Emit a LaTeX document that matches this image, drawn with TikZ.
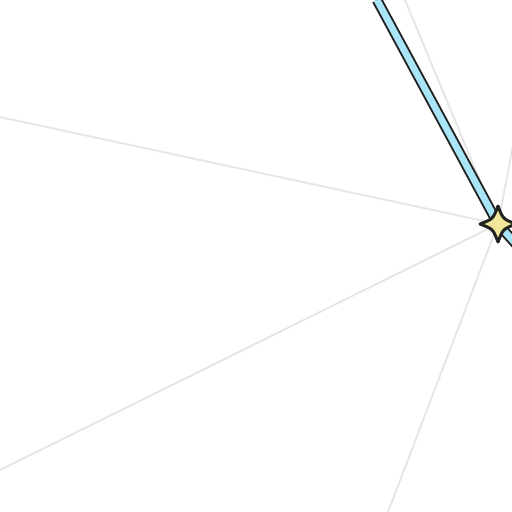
\documentclass[tikz,border=0pt]{standalone}
\usepackage{xcolor}
\definecolor{raycol}{HTML}{E6E6E6}
\definecolor{routecol}{HTML}{A8E6F7}
\definecolor{starcol}{HTML}{F2E69A}
\definecolor{inkcol}{HTML}{222222}

\begin{document}
\begin{tikzpicture}[x=0.02cm,y=-0.02cm,
    ray/.style={raycol, line width=1.1pt},
    route/.style={inkcol, line width=1.1pt, double=routecol, double distance=3.8pt, line join=round},
    starmark/.style={fill=starcol, draw=inkcol, line width=1.7pt, line join=round}]
\useasboundingbox (0,0) rectangle (512,512);

% hub and ray ends
\coordinate (hub) at (498,224);
\coordinate (w) at (0,117);
\coordinate (sw) at (0,470);
\coordinate (s) at (388,512);
\coordinate (n) at (405,0);
\coordinate (ne) at (514,140);
\coordinate (top) at (377,0);
\coordinate (out) at (516,244);

% Draw faint rays from the hub
\foreach \e in {w,sw,s,n,ne} {
    \draw[ray] (hub) -- (\e);
}

% Draw the route through the hub
\draw[route] (top) -- (hub) -- (out);

% Draw the star at the hub
\draw[starmark, shift={(hub)}] (0,-18) .. controls (5,-5) .. (18,0)
    .. controls (5,5) .. (0,18) .. controls (-5,5) .. (-18,0)
    .. controls (-5,-5) .. cycle;
\end{tikzpicture}
\end{document}
